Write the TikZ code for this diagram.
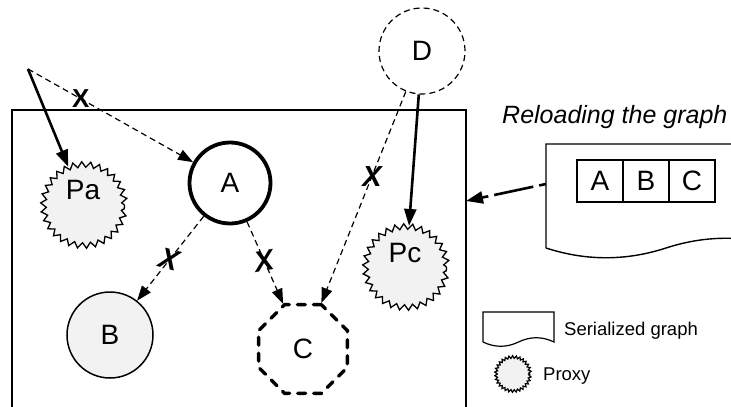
\documentclass[tikz,border=0pt]{standalone}
\usepackage{fontspec}
\setmainfont{Liberation Sans}
\usetikzlibrary{arrows.meta,shapes.geometric,decorations.pathmorphing}
\definecolor{lightfill}{HTML}{F2F2F2}
\tikzset{
  big/.style={font=\fontsize{28}{30}\selectfont},
  lbl/.style={big, inner sep=0pt},
  gnode/.style={circle, draw, line width=1.5pt, minimum size=86pt, inner sep=0pt, big},
  proxy/.style={circle, draw, fill=lightfill, line width=1.3pt, inner sep=0pt,
    decorate, decoration={zigzag, segment length=8.5pt, amplitude=2.8pt}},
  solidarrow/.style={line width=2.6pt, -{Triangle[length=17pt,width=12pt]}},
  dasharrow/.style={line width=1.2pt, dash pattern=on 6pt off 4pt, -{Triangle[length=15pt,width=11pt]}},
  thickdash/.style={line width=2.6pt, dash pattern=on 40pt off 6pt, dash phase=33pt, -{Triangle[length=17pt,width=12pt]}},
  xmark/.style={font=\fontsize{26}{26}\selectfont\bfseries, inner sep=0pt},
  xmarki/.style={font=\fontsize{29}{29}\selectfont\bfseries\itshape, inner sep=0pt},
  cell/.style={draw, line width=1.2pt, minimum width=46pt, minimum height=42pt, inner sep=0pt, big},
  doc/.style={line width=1.4pt},
  legend/.style={font=\fontsize{18.5}{20}\selectfont, inner sep=0pt, anchor=base west},
}
\begin{document}
\begin{tikzpicture}[x=1pt,y=-1pt]
\useasboundingbox (0,0) rectangle (731,407);
\clip (0,0) rectangle (731,407);

% container
\draw[line width=1.5pt] (12,410) -- (12,110) -- (466,110) -- (466,410);
\coordinate (rectR) at (466,201);
\coordinate (src) at (28,69);

% nodes
\node[proxy, minimum size=81pt] (Pa) at (84,205) {};
\node[lbl] (PaT) at (83,190) {Pa};
\node[proxy, minimum size=81pt] (Pc) at (406,267) {};
\node[lbl] (PcT) at (405,253) {Pc};
\node[gnode, line width=3.8pt, minimum size=81pt] (A) at (230,183) {A};
\node[gnode, fill=lightfill] (B) at (110,335) {B};
\node[regular polygon, regular polygon sides=8, draw, line width=3.4pt,
      dash pattern=on 8pt off 8pt, line cap=round, minimum size=96pt, inner sep=0pt, big] (C) at (303,349) {C};
\node[gnode, line width=1.2pt, dash pattern=on 6pt off 4pt] (D) at (422,51) {D};

% edges
\draw[solidarrow] (src) -- (Pa);
\draw[dasharrow] (src) -- node[xmark, pos=.32] (x1) {X} (A);
\draw[dasharrow] (A) -- node[xmarki, pos=.51, rotate=-15] (x2) {X} (B);
\draw[dasharrow] (A) -- node[xmarki, pos=.48, rotate=10] (x3) {X} (C);
\draw[dasharrow] (D) -- node[xmarki, pos=.4] (x4) {X} (C);
\draw[solidarrow] (D) -- (Pc);

% serialized graph
\node[font=\fontsize{25}{27}\selectfont\itshape, inner sep=0pt, anchor=base west] (title) at (502,123) {Reloading the graph};
\draw[doc] (546,248) -- (546,144) -- (786,144) -- (786,248)
  .. controls (746,235) and (706,235) .. (666,248)
  .. controls (626,261) and (586,261) .. (546,248);
\coordinate (docL) at (546,184);
\node[cell] (cA) at (600,181) {A};
\node[cell] (cB) at (646,181) {B};
\node[cell] (cC) at (692,181) {C};
\draw[thickdash] (docL) -- (rectR);

% legend
\draw[doc, line width=1.2pt] (483,342) -- (483,312) -- (554,312) -- (554,342)
  .. controls (542.2,336.3) and (530.3,336.3) .. (518.5,342)
  .. controls (506.7,347.7) and (494.8,347.7) .. (483,342);
\node[legend] (lg1) at (564,335) {Serialized graph};
\node[proxy, minimum size=34pt, line width=1.2pt, decoration={zigzag, segment length=3.5pt, amplitude=1.3pt}] (lgP) at (513,374) {};
\node[legend] (lg2) at (543,380) {Proxy};
\end{tikzpicture}
\end{document}
